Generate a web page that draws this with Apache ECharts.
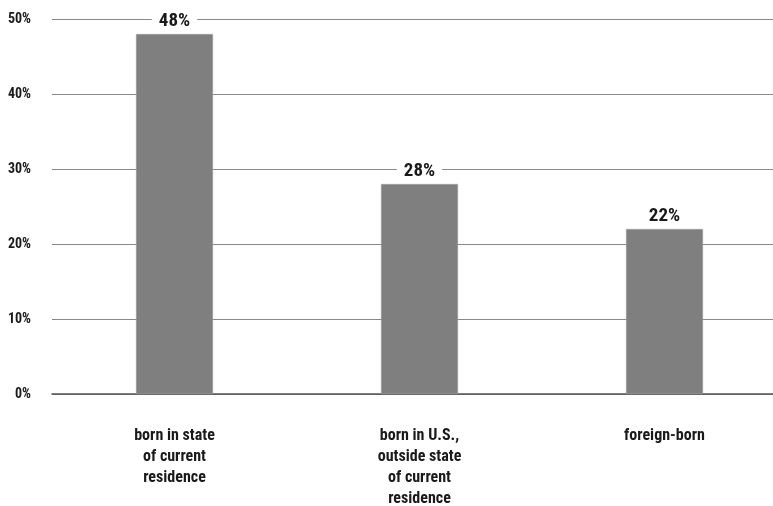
<!DOCTYPE html>
<html>
<head>
<meta charset="utf-8">
<script src="https://cdn.jsdelivr.net/npm/echarts@6/dist/echarts.min.js"></script>
<style>
  html, body { margin: 0; padding: 0; background: #fff; }
  #chart { width: 773px; height: 506px; }
</style>
</head>
<body>
<div id="chart"></div>
<script>
// Birthplace of residents, share of population
const categories = [
  'born in state\nof current\nresidence',
  'born in U.S.,\noutside state\nof current\nresidence',
  'foreign-born'
];
const shares = [48, 28, 22];
const yTicks = [0, 10, 20, 30, 40, 50];

const FONT = '"Roboto Condensed", "DejaVu Sans Condensed", sans-serif';

const chart = echarts.init(document.getElementById('chart'));
chart.setOption({
  animation: false,
  grid: {
    left: 52, top: 19, right: -14, bottom: 112,
    containLabel: false,
    outerBoundsMode: 'none'
  },
  xAxis: {
    type: 'category',
    data: categories,
    axisLine: { show: true, lineStyle: { color: '#555', width: 1.5 } },
    axisTick: { show: false },
    axisLabel: {
      interval: 0,
      margin: 31,
      color: '#1a1a1a',
      fontFamily: FONT,
      fontWeight: 'bold',
      fontSize: 16,
      lineHeight: 21,
      align: 'center'
    }
  },
  yAxis: {
    type: 'value',
    min: yTicks[0],
    max: yTicks[yTicks.length - 1],
    interval: 10,
    axisLine: { show: false },
    axisTick: { show: false },
    splitLine: { lineStyle: { color: '#888', width: 1 } },
    axisLabel: {
      margin: 21,
      color: '#1a1a1a',
      fontFamily: FONT,
      fontWeight: 'bold',
      fontSize: 14,
      formatter: v => v + '%'
    }
  },
  series: [{
    type: 'bar',
    data: shares,
    barWidth: 77,
    itemStyle: { color: '#7f7f7f', borderColor: '#a0a0a0', borderWidth: 0.5 },
    label: {
      show: true,
      position: 'top',
      distance: 3,
      formatter: p => p.value + '%',
      color: '#1a1a1a',
      fontFamily: FONT,
      fontWeight: 'bold',
      fontSize: 19,
      backgroundColor: '#fff',
      padding: [0, 7, 0, 7]
    }
  }]
});
</script>
</body>
</html>
